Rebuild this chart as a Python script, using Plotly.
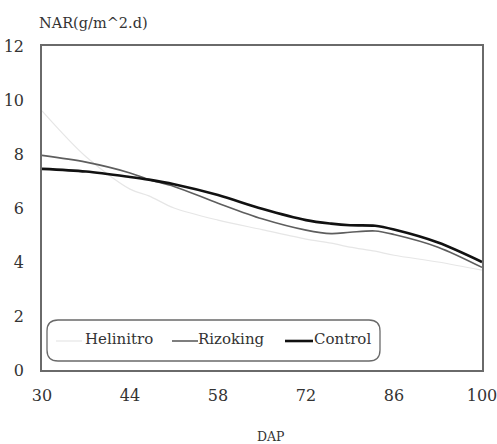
import plotly.graph_objects as go

# Net assimilation rate by days after planting
dap = [30, 37, 44, 47, 51, 58, 65, 72, 76, 79, 83, 86, 93, 100]
helinitro = [9.6, 7.9, 6.7, 6.45, 6.0, 5.55, 5.2, 4.85, 4.7, 4.55, 4.4, 4.25, 4.0, 3.7]
rizoking = [7.95, 7.7, 7.3, 7.05, 6.8, 6.18, 5.6, 5.18, 5.05, 5.1, 5.15, 5.02, 4.55, 3.8]
control = [7.45, 7.35, 7.15, 7.05, 6.88, 6.48, 5.97, 5.55, 5.42, 5.36, 5.34, 5.2, 4.72, 4.0]

x_ticks = [30, 44, 58, 72, 86, 100]
y_ticks = [0, 2, 4, 6, 8, 10, 12]

FONT = "DejaVu Serif"
W, H = 497, 444
L, R, T, B = 42, 15, 46, 74
PW, PH = W - L - R, H - T - B


def px(x):
    return (x - L) / PW


def py(y):
    return (H - B - y) / PH


fig = go.Figure()
fig.add_trace(go.Scatter(x=dap, y=helinitro, mode="lines", name="Helinitro",
                         line=dict(color="#e6e6e6", width=1.2, shape="spline", smoothing=0.9)))
fig.add_trace(go.Scatter(x=dap, y=rizoking, mode="lines", name="Rizoking",
                         line=dict(color="#5e5e5e", width=1.6, shape="spline", smoothing=0.9)))
fig.add_trace(go.Scatter(x=dap, y=control, mode="lines", name="Control",
                         line=dict(color="#111111", width=2.6, shape="spline", smoothing=0.9)))

# rounded legend frame
x0, x1 = px(47), px(380)
y0, y1 = py(361), py(320)
rx, ry = 11 / PW, 11 / PH
path = (f"M{x0+rx},{y0} L{x1-rx},{y0} Q{x1},{y0} {x1},{y0+ry} "
        f"L{x1},{y1-ry} Q{x1},{y1} {x1-rx},{y1} L{x0+rx},{y1} "
        f"Q{x0},{y1} {x0},{y1-ry} L{x0},{y0+ry} Q{x0},{y0} {x0+rx},{y0} Z")
shapes = [dict(type="path", path=path, xref="paper", yref="paper",
               line=dict(color="#6a6a6a", width=1.3))]

legend_items = [
    ("Helinitro", "#e6e6e6", 1.2, 56, 82, 83),
    ("Rizoking", "#5e5e5e", 1.6, 172, 198, 196),
    ("Control", "#111111", 2.6, 285, 313, 312),
]
annotations = []
ly = py(341)
for name, color, width, lx0, lx1, tx in legend_items:
    shapes.append(dict(type="line", xref="paper", yref="paper",
                       x0=px(lx0), x1=px(lx1), y0=ly, y1=ly,
                       line=dict(color=color, width=width)))
    annotations.append(dict(text=name, xref="paper", yref="paper",
                            x=px(tx), y=py(339), xanchor="left", yanchor="middle",
                            showarrow=False, font=dict(family=FONT, size=15, color="#333")))

annotations.append(dict(text="NAR(g/m^2.d)", xref="paper", yref="paper",
                        x=px(37), y=py(23), xanchor="left", yanchor="middle",
                        showarrow=False, font=dict(family=FONT, size=14.5, color="#333")))
annotations.append(dict(text="DAP", xref="paper", yref="paper",
                        x=px(270), y=py(436), xanchor="center", yanchor="middle",
                        showarrow=False, font=dict(family=FONT, size=12.5, color="#333")))

fig.update_layout(
    width=W, height=H,
    margin=dict(l=L, r=R, t=T, b=B),
    paper_bgcolor="white", plot_bgcolor="white",
    showlegend=False,
    shapes=shapes, annotations=annotations,
    font=dict(family=FONT, size=14, color="#333"),
)
fig.update_xaxes(range=[30, 100], tickvals=x_ticks, ticktext=[str(v) for v in x_ticks],
                 showgrid=False, zeroline=False, showline=True, mirror=True,
                 linecolor="#6a6a6a", linewidth=1.5, ticks="", ticklabelstandoff=10,
                 automargin=False, ticklabeloverflow="allow",
                 tickfont=dict(family=FONT, size=16, color="#333"))
fig.update_yaxes(range=[0, 12], tickvals=y_ticks, ticktext=[str(v) for v in y_ticks],
                 showgrid=False, zeroline=False, showline=True, mirror=True,
                 linecolor="#6a6a6a", linewidth=1.5, ticks="", ticklabelstandoff=13,
                 automargin=False, ticklabeloverflow="allow",
                 tickfont=dict(family=FONT, size=16, color="#333"))

fig.write_html("out.html")
